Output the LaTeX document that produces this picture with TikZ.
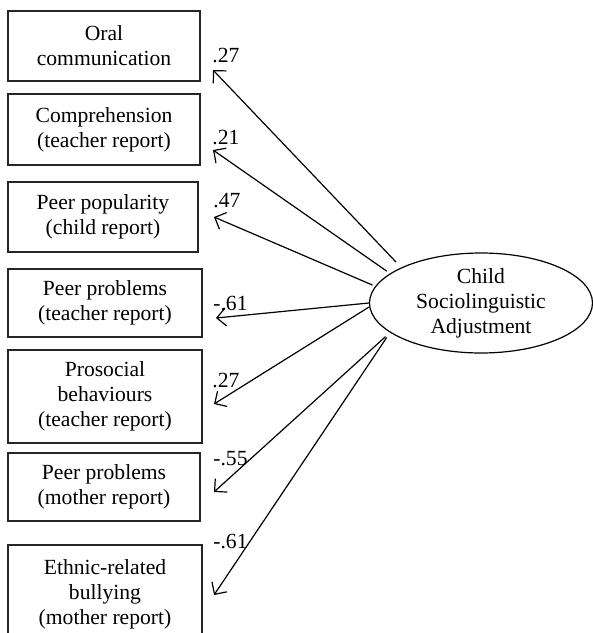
\documentclass[tikz,border=0pt]{standalone}
\usepackage{fontspec}
\setmainfont{Liberation Serif}
\usetikzlibrary{arrows.meta}
\usetikzlibrary{shapes.geometric}

\begin{document}
\begin{tikzpicture}[x=0.5pt, y=-0.5pt,
  font=\fontsize{10.8}{12.5}\selectfont,
  ind/.style={draw=black!85, line width=0.6pt, align=center, minimum width=96pt, inner sep=0pt},
  lat/.style={draw, ellipse, line width=0.6pt, align=center, minimum width=111.5pt, minimum height=50pt, inner sep=0pt},
  load/.style={->, line width=0.6pt, >={Straight Barb[length=4.5pt,width=9pt]}},
  coef/.style={anchor=west, inner sep=0pt}]
	 % Fix the page size
	 \useasboundingbox (0,0) rectangle (593,633);

	 % Observed indicators
	 \node[ind, minimum height=35pt] (oral) at (104,46) {Oral\\communication};
	 \node[ind, minimum height=35.5pt] (comp) at (104,129.5) {Comprehension\\(teacher report)};
	 \node[ind, minimum width=95pt, minimum height=35pt] (pop) at (103,217) {Peer popularity\\(child report)};
	 \node[ind, minimum width=97pt, minimum height=34pt] (ppt) at (105,303) {Peer problems\\(teacher report)};
	 \node[ind, minimum width=97pt, minimum height=46.5pt] (pro) at (105,396.5) {Prosocial\\behaviours\\(teacher report)};
	 \node[ind, minimum height=34pt] (ppm) at (104,487) {Peer problems\\(mother report)};
	 \node[ind, minimum width=97pt, minimum height=49pt] (bul) at (105,594) {Ethnic-related\\bullying\\(mother report)};

	 % Latent factor
	 \node[lat] (csa) at (481,303) {Child\\Sociolinguistic\\Adjustment};

	 % Arrow tips next to the boxes
	 \coordinate (t1) at (213,70);
	 \coordinate (t2) at (213,150);
	 \coordinate (t3) at (214,217);
	 \coordinate (t4) at (216,318);
	 \coordinate (t5) at (214,404);
	 \coordinate (t6) at (214,492);
	 \coordinate (t7) at (214,595);

	 % Loadings
	 \draw[load, shorten <=3.8pt] (csa.156) -- (t1);
	 \draw[load, shorten <=2pt] (csa.162.6) -- (t2);
	 \draw[load, shorten <=1.5pt] (csa.171) -- (t3);
	 \draw[load] (csa.180) -- (t4);
	 \draw[load] (csa.182) -- (t5);
	 \draw[load, shorten <=3pt] (csa.198.4) -- (t6);
	 \draw[load, shorten <=3pt] (csa.198.4) -- (t7);

	 \node[coef] (c1) at (212,55) {.27};
	 \node[coef] (c2) at (212,137) {.21};
	 \node[coef] (c3) at (213,201) {.47};
	 \node[coef] (c4) at (213,303) {-.61};
	 \node[coef] (c5) at (212,380) {.27};
	 \node[coef] (c6) at (213,459) {-.55};
	 \node[coef] (c7) at (213,541) {-.61};
\end{tikzpicture}
\end{document}
